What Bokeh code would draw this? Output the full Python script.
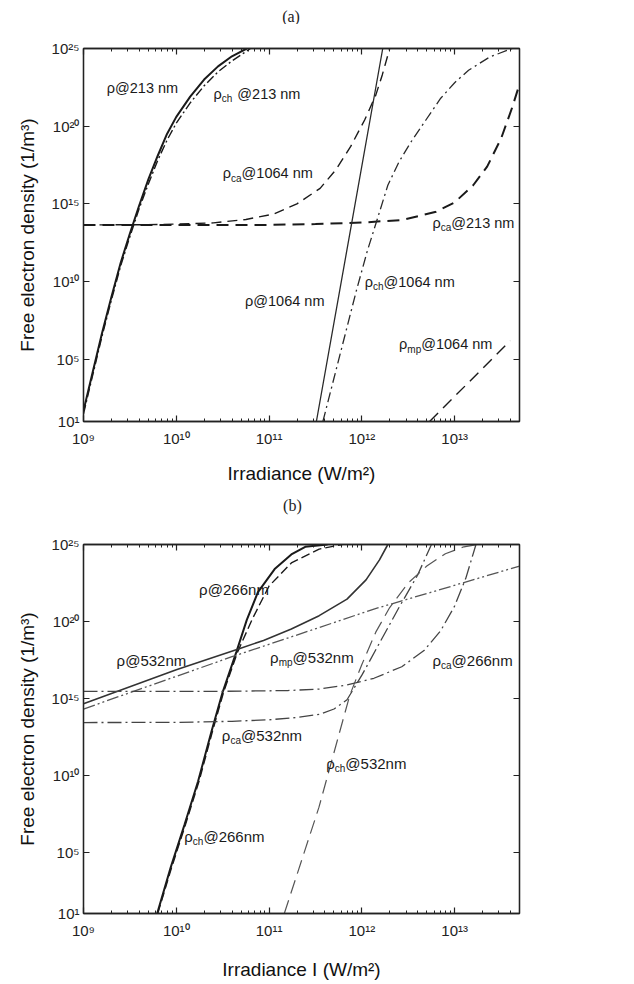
from bokeh.plotting import figure
from bokeh.models import LogAxis, FixedTicker, CustomJSTickFormatter, Range1d
from bokeh.layouts import column
from bokeh.embed import file_html
from bokeh.resources import INLINE
from bokeh.core.properties import value

# ---------------- data (log10 of irradiance, log10 of density) ----------------
# Panel (a)
a_rho213_x = [9.0, 9.1, 9.2, 9.3, 9.4, 9.5, 9.6, 9.7, 9.8, 9.9, 10.0, 10.15, 10.3, 10.45, 10.6, 10.76]
a_rho213_y = [1.7, 4.2, 6.7, 9.0, 11.2, 13.1, 14.9, 16.6, 18.1, 19.5, 20.6, 21.9, 23.0, 23.85, 24.5, 25.0]
a_rhoch213_x = [9.0, 9.1, 9.2, 9.3, 9.4, 9.5, 9.6, 9.7, 9.8, 9.9, 10.0, 10.15, 10.3, 10.45, 10.6, 10.8]
a_rhoch213_y = [1.5, 4.0, 6.5, 8.8, 11.0, 12.9, 14.7, 16.3, 17.8, 19.1, 20.2, 21.5, 22.6, 23.5, 24.2, 25.0]
a_rhoca213_x = [9.0, 10.0, 11.0, 11.5, 12.0, 12.44, 12.8, 13.0, 13.2, 13.35, 13.5, 13.62, 13.72]
a_rhoca213_y = [13.65, 13.65, 13.65, 13.7, 13.8, 13.97, 14.5, 15.1, 16.2, 17.4, 19.2, 21.2, 23.1]
a_rhoca1064_x = [9.0, 9.6, 10.0, 10.4, 10.75, 11.05, 11.3, 11.55, 11.72, 11.88, 12.03, 12.15, 12.22, 12.3]
a_rhoca1064_y = [13.65, 13.66, 13.7, 13.78, 14.0, 14.35, 15.0, 16.0, 17.2, 18.7, 20.4, 22.0, 23.3, 25.0]
a_rho1064_x = [11.51, 11.89, 12.225]
a_rho1064_y = [1.0, 13.75, 25.0]
a_rhoch1064_x = [11.58, 11.7, 11.82, 11.94, 12.06, 12.16, 12.28, 12.4, 12.52, 12.69, 12.85, 13.0, 13.15, 13.38, 13.62]
a_rhoch1064_y = [1.0, 3.8, 6.6, 9.4, 12.0, 13.9, 16.2, 17.7, 18.9, 20.4, 21.8, 22.8, 23.6, 24.46, 25.0]
a_rhomp1064_x = [12.73, 13.6]
a_rhomp1064_y = [1.0, 6.2]

# Panel (b)
b_rho266_x = [9.794, 9.94, 10.09, 10.235, 10.38, 10.5, 10.647, 10.76, 10.88, 11.06, 11.24, 11.39, 11.63]
b_rho266_y = [1.0, 4.0, 6.8, 9.6, 12.85, 15.4, 18.0, 20.1, 21.9, 23.4, 24.35, 24.85, 25.0]
b_rhoch266_x = [9.80, 9.95, 10.1, 10.245, 10.39, 10.51, 10.66, 10.82, 11.0, 11.24, 11.54, 11.79]
b_rhoch266_y = [1.0, 4.0, 6.8, 9.6, 12.85, 15.4, 18.0, 20.16, 22.3, 23.8, 24.7, 25.0]
b_rho532_x = [9.0, 10.0, 10.67, 10.94, 11.24, 11.54, 11.84, 12.045, 12.19, 12.28]
b_rho532_y = [14.65, 16.85, 18.2, 18.76, 19.5, 20.37, 21.45, 22.7, 24.0, 25.0]
b_rhomp532_x = [9.0, 10.6, 11.54, 12.13, 12.75, 13.7]
b_rhomp532_y = [14.3, 17.7, 19.6, 20.8, 21.9, 23.6]
b_rhoca266_x = [9.0, 10.5, 11.2, 11.54, 11.84, 12.13, 12.43, 12.67, 12.85, 13.0, 13.12, 13.23]
b_rhoca266_y = [15.45, 15.45, 15.5, 15.6, 15.86, 16.3, 17.05, 18.1, 19.4, 21.0, 22.8, 25.0]
b_rhoca532_x = [9.0, 10.0, 10.6, 11.0, 11.3, 11.54, 11.7, 11.84, 12.0, 12.2, 12.4, 12.6, 12.75]
b_rhoca532_y = [13.42, 13.43, 13.5, 13.6, 13.75, 13.95, 14.3, 14.9, 16.5, 18.7, 20.9, 23.0, 25.0]
b_rhoch532_x = [11.164, 11.537, 11.87, 12.0, 12.15, 12.3, 12.5, 12.7, 12.9, 13.1, 13.25]
b_rhoch532_y = [1.0, 7.9, 15.2, 17.2, 19.3, 20.9, 22.5, 23.6, 24.4, 24.85, 25.0]

# Axis ticks
x_major_exp = [9, 10, 11, 12, 13]
y_major_exp = [1, 5, 10, 15, 20, 25]
minor_mantissas = [2, 3, 4, 5, 6, 7, 8, 9]

# Curve labels: (log x, log y, subscript, rest, extra gap)
a_labels = [
    (9.25, 22.48, "", "@213 nm", 0),
    (10.40, 22.1, "ch", "@213 nm", 5),
    (10.50, 16.97, "ca", "@1064 nm", 0),
    (12.76, 13.8, "ca", "@213 nm", 0),
    (10.74, 8.76, "", "@1064 nm", 0),
    (12.03, 10.0, "ch", "@1064 nm", 0),
    (12.40, 5.97, "mp", "@1064 nm", 0),
]
b_labels = [
    (10.246, 22.05, "", "@266nm", 0),
    (9.356, 17.43, "", "@532nm", 0),
    (11.01, 17.65, "mp", "@532nm", 0),
    (12.76, 17.43, "ca", "@266nm", 0),
    (10.49, 12.6, "ca", "@532nm", 0),
    (11.615, 10.74, "ch", "@532nm", 0),
    (10.085, 6.04, "ch", "@266nm", 0),
]

FONT = "Liberation Sans"
WID = {'ρ': 0.578, 'c': 0.5, 'h': 0.556, 'a': 0.556, 'm': 0.833, 'p': 0.556,
       '@': 1.015, ' ': 0.278, 'n': 0.556}

W_PAGE = 626


def tw(s, size):
    return sum(WID.get(ch, 0.556) for ch in s) * size


def pw(v):
    return [10 ** t for t in v]


y_fmt = CustomJSTickFormatter(code="""
const e = Math.round(Math.log10(tick));
const sup = {"0":"\u2070","1":"\u00b9","2":"\u00b2","3":"\u00b3","4":"\u2074","5":"\u2075","6":"\u2076","7":"\u2077","8":"\u2078","9":"\u2079","-":"\u207b"};
return "10" + String(e).split("").map(c => sup[c]).join("");
""")
blank_fmt = CustomJSTickFormatter(code="return '';")


def caption(text, h, cx, cy_from_top):
    c = figure(width=W_PAGE, height=h, x_range=Range1d(0, W_PAGE), y_range=Range1d(0, h),
               x_axis_location=None, y_axis_location=None,
               output_backend="svg", toolbar_location=None,
               min_border_left=0, min_border_right=0, min_border_top=0, min_border_bottom=0)
    c.grid.visible = False
    c.outline_line_color = None
    c.text([cx], [h - cy_from_top], text=[text], text_font=value("Liberation Serif"),
           text_font_size="16px", text_align="center", text_baseline="middle",
           text_color="#222222")
    return c


def make_fig(xlabel, h, ml, mr, mt, mb, xlab_standoff):
    p = figure(width=W_PAGE, height=h, x_axis_type="log", y_axis_type="log",
               x_range=Range1d(1e9, 5e13), y_range=Range1d(1e1, 1e25),
               output_backend="svg", toolbar_location=None,
               min_border_left=ml, min_border_right=mr, min_border_top=mt, min_border_bottom=mb)
    p.grid.visible = False
    p.outline_line_color = "#222222"
    p.outline_line_width = 1.3
    p.background_fill_color = "white"
    p.border_fill_color = "white"

    xt = FixedTicker(ticks=[10.0 ** e for e in x_major_exp],
                     minor_ticks=[m * 10.0 ** e for e in x_major_exp for m in minor_mantissas])
    yt = FixedTicker(ticks=[10.0 ** e for e in y_major_exp], minor_ticks=[])

    bx = p.below[0]
    ly = p.left[0]
    bx.ticker = xt
    bx.formatter = y_fmt
    bx.axis_label = xlabel
    ly.ticker = yt
    ly.formatter = y_fmt
    ly.axis_label = "Free electron density (1/m\u00b3)"

    top = LogAxis(ticker=xt, formatter=blank_fmt, major_label_text_font_size="0px")
    right = LogAxis(ticker=yt, formatter=blank_fmt, major_label_text_font_size="0px")
    p.add_layout(top, "above")
    p.add_layout(right, "right")

    for ax in [bx, ly, top, right]:
        ax.axis_line_color = "#222222"
        ax.axis_line_width = 1.3
        ax.major_tick_in = 6
        ax.major_tick_out = 0
        ax.minor_tick_in = 3
        ax.minor_tick_out = 0
        ax.major_tick_line_color = "#222222"
        ax.minor_tick_line_color = "#222222"
        ax.major_tick_line_width = 1.2
    for ax in [bx, ly]:
        ax.major_label_text_font = FONT
        ax.major_label_text_font_size = "15px"
        ax.major_label_text_color = "#222222"
        ax.axis_label_text_font = FONT
        ax.axis_label_text_font_size = "19px"
        ax.axis_label_text_font_style = "normal"
        ax.axis_label_text_color = "#111111"
    bx.major_label_standoff = 8
    ly.major_label_standoff = 4
    bx.axis_label_standoff = xlab_standoff
    ly.axis_label_standoff = 11
    return p


def line(p, xs, ys, color="#1a1a1a", width=1.5, dash="solid"):
    p.line(pw(xs), pw(ys), line_color=color, line_width=width, line_dash=dash)


def add_labels(p, labels, size=15, sub_size=10):
    for (lx, ly, sub, rest, gap) in labels:
        x = 10 ** lx
        y = 10 ** ly
        p.text([x], [y], text=["\u03c1"], text_font=value(FONT), text_font_size=f"{size}px",
               text_align="left", text_baseline="middle", text_color="#1a1a1a")
        off = tw("\u03c1", size)
        if sub:
            p.text([x], [y], text=[sub], text_font=value(FONT), text_font_size=f"{sub_size}px",
                   text_align="left", text_baseline="middle", text_color="#1a1a1a",
                   x_offset=off, y_offset=5)
            off += tw(sub, sub_size)
        off += gap
        p.text([x], [y], text=[rest], text_font=value(FONT), text_font_size=f"{size}px",
               text_align="left", text_baseline="middle", text_color="#1a1a1a",
               x_offset=off)


# ---------------- panel (a) ----------------
cap1 = caption("(a)", 24, 298, 16)
p1 = make_fig("Irradiance (W/m\u00b2)", 464, 80, 107, 24, 67, 13)
line(p1, a_rho213_x, a_rho213_y, width=2.0)
line(p1, a_rhoch213_x, a_rhoch213_y, width=1.4, dash="9 3 2 3")
line(p1, a_rhoca213_x, a_rhoca213_y, width=2.0, dash="12 7")
line(p1, a_rhoca1064_x, a_rhoca1064_y, width=1.4, dash="10 6")
line(p1, a_rho1064_x, a_rho1064_y, width=1.3, color="#2a2a2a")
line(p1, a_rhoch1064_x, a_rhoch1064_y, width=1.3, dash="10 4 2 4", color="#2a2a2a")
line(p1, a_rhomp1064_x, a_rhomp1064_y, width=1.4, dash="12 7")
add_labels(p1, a_labels, size=14.5, sub_size=10)

# ---------------- panel (b) ----------------
cap2 = caption("(b)", 32, 300, 17)
p2 = make_fig("Irradiance I (W/m\u00b2)", 462, 83, 106, 24, 66, 17)
line(p2, b_rho266_x, b_rho266_y, width=2.0)
line(p2, b_rhoch266_x, b_rhoch266_y, width=1.4, dash="9 4")
line(p2, b_rho532_x, b_rho532_y, width=1.6, color="#333333")
line(p2, b_rhomp532_x, b_rhomp532_y, width=1.3, color="#555555", dash="12 3 2 3 2 3")
line(p2, b_rhoca266_x, b_rhoca266_y, width=1.3, color="#444444", dash="14 4 2 4")
line(p2, b_rhoca532_x, b_rhoca532_y, width=1.3, color="#444444", dash="14 4 2 4")
line(p2, b_rhoch532_x, b_rhoch532_y, width=1.2, color="#555555", dash="14 7")
add_labels(p2, b_labels)

layout = column(cap1, p1, cap2, p2, spacing=0)
with open("out.html", "w", encoding="utf-8") as f:
    f.write(file_html(layout, INLINE))
